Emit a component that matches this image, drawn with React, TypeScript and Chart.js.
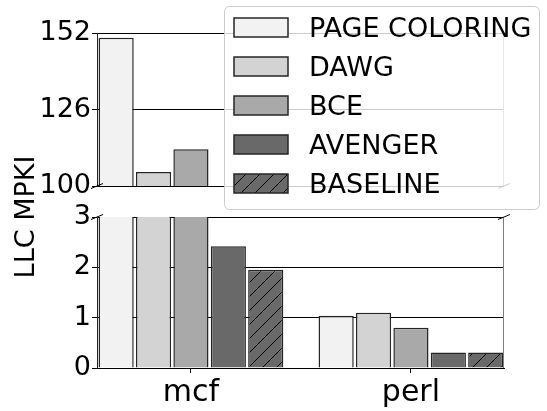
import React, { useEffect, useRef } from "react";
import { Chart, registerables } from "chart.js";

Chart.register(...registerables);

// ---- data ----
const categories = ["mcf", "perl"];
const seriesNames = ["PAGE COLORING", "DAWG", "BCE", "AVENGER", "BASELINE"];
const pageColoring = [150.4, 1.04];
const dawg = [104.8, 1.1];
const bce = [112.5, 0.8];
const avenger = [2.42, 0.31];
const baseline = [1.95, 0.31];
const topTicks = [100, 126, 152];
const bottomTicks = [0, 1, 2, 3];
const yTitle = "LLC MPKI";

// ---- styles ----
const seriesValues = [pageColoring, dawg, bce, avenger, baseline];
const fills = ["#f2f2f2", "#d3d3d3", "#a9a9a9", "#696969", "#696969"];
const hatched = [false, false, false, false, true];
const FONT = "'DejaVu Sans', 'Liberation Sans', sans-serif";
const EDGE = "#262626";
const X_MIN = -0.427;
const X_MAX = 1.423;
const W = 547;
const H = 411;

function makeHatch(): CanvasPattern | string {
  const c = document.createElement("canvas");
  const s = 14;
  c.width = s;
  c.height = s;
  const g = c.getContext("2d");
  if (!g) return "#696969";
  g.fillStyle = "#696969";
  g.fillRect(0, 0, s, s);
  g.strokeStyle = "#000";
  g.lineWidth = 1;
  g.beginPath();
  g.moveTo(-1, s + 1);
  g.lineTo(s + 1, -1);
  g.moveTo(-s / 2 - 1, s / 2 + 1);
  g.lineTo(s / 2 + 1, -s / 2 - 1);
  g.moveTo(s / 2 - 1, s * 1.5 + 1);
  g.lineTo(s * 1.5 + 1, s / 2 - 1);
  g.stroke();
  return g.createPattern(c, "repeat") || "#696969";
}

function buildDatasets(hatch: CanvasPattern | string) {
  return seriesNames.map((name, i) => ({
    label: name,
    data: categories.map((_, j) => ({ x: j, y: seriesValues[i][j] })),
    backgroundColor: hatched[i] ? hatch : fills[i],
    borderColor: EDGE,
    borderWidth: 1.5,
    borderSkipped: "start" as const,
    clip: 0,
  }));
}

function roundRectPath(ctx: CanvasRenderingContext2D, x: number, y: number, w: number, h: number, r: number) {
  ctx.beginPath();
  ctx.moveTo(x + r, y);
  ctx.arcTo(x + w, y, x + w, y + h, r);
  ctx.arcTo(x + w, y + h, x, y + h, r);
  ctx.arcTo(x, y + h, x, y, r);
  ctx.arcTo(x, y, x + w, y, r);
  ctx.closePath();
}

function breakMark(ctx: CanvasRenderingContext2D, x: number, y: number) {
  ctx.beginPath();
  ctx.moveTo(x - 6, y + 2.5);
  ctx.lineTo(x + 6, y - 2.5);
  ctx.stroke();
}

const xTicksFixed = (scale: any) => {
  scale.ticks = categories.map((_, i) => ({ value: i }));
};

export default function App() {
  const topRef = useRef<HTMLCanvasElement>(null);
  const botRef = useRef<HTMLCanvasElement>(null);

  useEffect(() => {
    if (!topRef.current || !botRef.current) return;
    const hatch = makeHatch();

    const topDecor = {
      id: "topDecor",
      afterDatasetsDraw(chart: any) {
        const { ctx, chartArea } = chart;
        ctx.save();
        ctx.strokeStyle = "#808080";
        ctx.lineWidth = 1;
        ctx.beginPath();
        ctx.moveTo(chartArea.right - 0.5, chartArea.top);
        ctx.lineTo(chartArea.right - 0.5, chartArea.bottom);
        ctx.stroke();
        ctx.strokeStyle = "#000";
        breakMark(ctx, chartArea.left, chartArea.bottom);
        breakMark(ctx, chartArea.right, chartArea.bottom);
        ctx.restore();
      },
    };

    const bottomDecor = {
      id: "bottomDecor",
      afterDraw(chart: any) {
        const { ctx, chartArea } = chart;
        ctx.save();
        ctx.strokeStyle = "#808080";
        ctx.lineWidth = 1;
        ctx.beginPath();
        ctx.moveTo(chartArea.right - 0.5, chartArea.top);
        ctx.lineTo(chartArea.right - 0.5, chartArea.bottom);
        ctx.stroke();
        ctx.strokeStyle = "#000";
        breakMark(ctx, chartArea.left, chartArea.top);
        breakMark(ctx, chartArea.right, chartArea.top);

        // y title spanning both panels
        ctx.save();
        ctx.translate(27, 217);
        ctx.rotate(-Math.PI / 2);
        ctx.fillStyle = "#000";
        ctx.font = `27px ${FONT}`;
        ctx.textAlign = "center";
        ctx.textBaseline = "middle";
        ctx.fillText(yTitle, 0, 0);
        ctx.restore();

        // legend
        roundRectPath(ctx, 224.5, 6.5, 315, 203, 5);
        ctx.fillStyle = "rgba(255,255,255,0.8)";
        ctx.fill();
        ctx.strokeStyle = "#cccccc";
        ctx.lineWidth = 1;
        ctx.stroke();
        chart.data.datasets.forEach((ds: any, i: number) => {
          const cy = 27.5 + i * 39;
          ctx.fillStyle = ds.backgroundColor;
          ctx.fillRect(234, cy - 9.5, 54, 19);
          ctx.strokeStyle = EDGE;
          ctx.lineWidth = 1.5;
          ctx.strokeRect(234, cy - 9.5, 54, 19);
          ctx.fillStyle = "#000";
          ctx.font = `27px ${FONT}`;
          ctx.textAlign = "left";
          ctx.textBaseline = "alphabetic";
          ctx.fillText(ds.label, 309, cy + 9.6);
        });
        ctx.restore();
      },
    };

    const yCommon = (ticks: number[]) => ({
      afterBuildTicks: (s: any) => {
        s.ticks = ticks.map((v) => ({ value: v }));
      },
      afterFit: (s: any) => {
        s.width = 97;
      },
      grid: { color: "#000", lineWidth: 1, tickLength: 5, tickColor: "#000", drawTicks: true },
      border: { color: "#222", width: 1 },
      ticks: { font: { family: FONT, size: 27 }, color: "#000", padding: 1 },
    });

    const top = new Chart(topRef.current, {
      type: "bar",
      data: { datasets: buildDatasets(hatch) as any },
      options: {
        animation: false,
        responsive: false,
        events: [],
        layout: { padding: { left: 0, right: W - 504, top: 33, bottom: H - 186 } },
        plugins: { legend: { display: false }, tooltip: { enabled: false } },
        datasets: { bar: { categoryPercentage: 0.85, barPercentage: 0.94 } },
        scales: {
          x: {
            type: "linear",
            min: X_MIN,
            max: X_MAX,
            offset: false,
            display: false,
            grid: { offset: false },
            afterBuildTicks: xTicksFixed,
          },
          y: { type: "linear", min: 100, max: 152, ...yCommon(topTicks) },
        },
      } as any,
      plugins: [topDecor],
    });

    const bottom = new Chart(botRef.current, {
      type: "bar",
      data: { datasets: buildDatasets(hatch) as any },
      options: {
        animation: false,
        responsive: false,
        events: [],
        layout: { padding: { left: 0, right: W - 504, top: 217, bottom: 0 } },
        plugins: { legend: { display: false }, tooltip: { enabled: false } },
        datasets: { bar: { categoryPercentage: 0.85, barPercentage: 0.94 } },
        scales: {
          x: {
            type: "linear",
            min: X_MIN,
            max: X_MAX,
            offset: false,
            afterBuildTicks: xTicksFixed,
            afterFit: (s: any) => {
              s.height = H - 368;
            },
            grid: { offset: false, drawOnChartArea: false, drawTicks: true, tickLength: 5, tickColor: "#000" },
            border: { color: "#000", width: 1 },
            ticks: {
              callback: (_v: any, i: number) => categories[i] ?? "",
              font: { family: FONT, size: 30 },
              color: "#000",
              padding: 2,
              autoSkip: false,
              maxRotation: 0,
            },
          },
          y: { type: "linear", min: 0, max: 3, ...yCommon(bottomTicks) },
        },
      } as any,
      plugins: [bottomDecor],
    });

    return () => {
      top.destroy();
      bottom.destroy();
    };
  }, []);

  const canvasStyle: React.CSSProperties = { position: "absolute", left: 0, top: 0, width: W, height: H, display: "block" };

  return (
    <div style={{ position: "fixed", left: 0, top: 0, width: W, height: H, background: "#fff" }}>
      <canvas ref={topRef} width={W} height={H} style={canvasStyle} />
      <canvas ref={botRef} width={W} height={H} style={canvasStyle} />
    </div>
  );
}
